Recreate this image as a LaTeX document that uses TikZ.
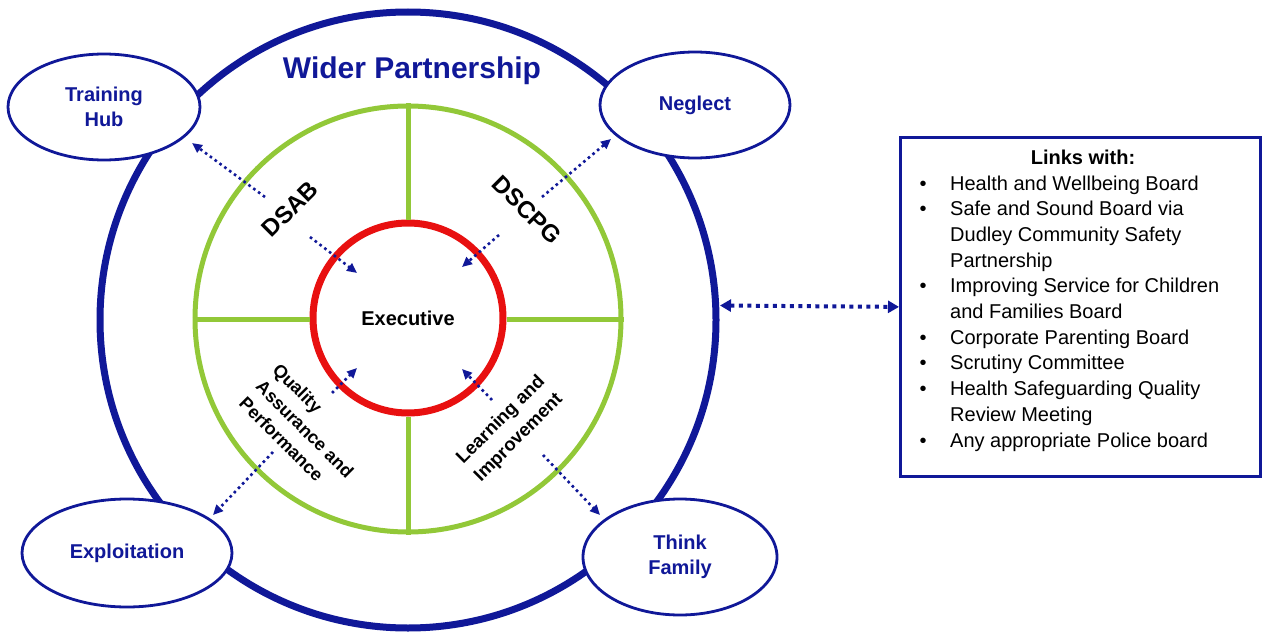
\documentclass[tikz,border=0pt]{standalone}
\usepackage{fontspec}
\setmainfont{Liberation Sans}
\usetikzlibrary{arrows.meta,shapes.geometric}
\definecolor{navy}{RGB}{16,24,152}
\definecolor{leaf}{RGB}{146,200,56}
\definecolor{ruby}{RGB}{232,16,16}
\newcommand\listbul{\makebox[30.5pt][l]{\textbullet}}
\newcommand\listgap{\hspace*{30.5pt}}
\begin{document}
\begin{tikzpicture}[x=1pt,y=-1pt,
  bubble/.style={ellipse, draw=navy, line width=2.8pt, fill=white, text=navy,
    inner sep=0pt, align=center, font={\fontsize{20}{25}\selectfont\bfseries}},
  quarter/.style={inner sep=0pt, text=black},
  dotarrow/.style={navy, line width=2.6pt, dash pattern=on 2.6pt off 3.4pt,
    -{Triangle[length=10pt,width=9pt]}},
  linkarrow/.style={navy, line width=4pt, dash pattern=on 4pt off 4.5pt,
    {Triangle[length=11pt,width=12pt]}-{Triangle[length=11pt,width=12pt]}}]
\useasboundingbox (0,0) rectangle (1262,634);

% outer partnership ring
\node[circle, draw=navy, line width=7pt, minimum size=616pt, inner sep=0pt] (wider) at (408,320) {};

% green quartered ring and the executive circle
\node[circle, draw=leaf, line width=5pt, minimum size=426pt, inner sep=0pt] (ring) at (408,319) {};
\node[circle, draw=ruby, line width=7pt, minimum size=190pt, inner sep=0pt,
  font={\fontsize{20}{24}\selectfont\bfseries}] (exec) at (408,318) {Executive};
\draw[leaf, line width=5pt] (ring.north) -- (ring.north |- exec.north);
\draw[leaf, line width=5pt] (ring.south) -- (ring.south |- exec.south);
\draw[leaf, line width=5pt] (ring.west) -- (ring.west -| exec.west);
\draw[leaf, line width=5pt] (ring.east) -- (ring.east -| exec.east);

% title
\node[anchor=base, text=navy, inner sep=0pt,
  font={\fontsize{30}{36}\selectfont\bfseries}] (title) at (412,78) {Wider Partnership};

% satellite groups
\node[bubble, minimum width=192pt, minimum height=106pt] (thub) at (104,107) {Training\\Hub};
\node[bubble, minimum width=190pt, minimum height=106pt] (neglect) at (695,105) {Neglect};
\node[bubble, minimum width=210pt, minimum height=108pt] (exploit) at (127,553) {Exploitation};
\node[bubble, minimum width=194pt, minimum height=116pt] (tfam) at (680,557) {Think\\Family};

% quarter labels
\node[quarter, rotate=45, font={\fontsize{24}{28}\selectfont\bfseries}] (dsab) at (290,209) {DSAB};
\node[quarter, rotate=-45, font={\fontsize{24}{28}\selectfont\bfseries}] (dscpg) at (527,210) {DSCPG};
\node[quarter, rotate=-45, align=left, font={\fontsize{18}{23.7}\selectfont\bfseries}] (qa) at (305,429)
  {Quality\\Assurance and\\Performance};
\node[quarter, rotate=45, align=left, font={\fontsize{18.5}{25}\selectfont\bfseries}] (li) at (510,429)
  {Learning and\\Improvement};

% links box
\node[draw=navy, line width=2.8pt, minimum width=360pt, minimum height=339pt,
  inner sep=0pt, anchor=north west] (links) at (899,136) {};
\node[anchor=base, inner sep=0pt, font={\fontsize{20}{24}\selectfont\bfseries}] (linkshead) at (1083,164) {Links with:};
\node[anchor=base west, inner sep=0pt, font={\fontsize{20}{25.7}\selectfont}] (linklist) at (919.5,190)
  {\begin{tabular}[t]{@{}l@{}}
   \listbul Health and Wellbeing Board\\
   \listbul Safe and Sound Board via\\
   \listgap Dudley Community Safety\\
   \listgap Partnership\\
   \listbul Improving Service for Children\\
   \listgap and Families Board\\
   \listbul Corporate Parenting Board\\
   \listbul Scrutiny Committee\\
   \listbul Health Safeguarding Quality\\
   \listgap Review Meeting\\
   \listbul Any appropriate Police board
   \end{tabular}};

% arrow end points
\coordinate (dsabOut) at (265,197);
\coordinate (thubIn) at (192,143);
\coordinate (dsabIn) at (310,237);
\coordinate (execA) at (357,273);
\coordinate (dscpgOut) at (542,197);
\coordinate (neglectIn) at (611,139);
\coordinate (dscpgIn) at (499,235);
\coordinate (execB) at (462,267);
\coordinate (qaIn) at (332,393);
\coordinate (execC) at (357,368);
\coordinate (qaOut) at (273,452);
\coordinate (exploitIn) at (213,515);
\coordinate (liIn) at (492,400);
\coordinate (execD) at (462,369);
\coordinate (liOut) at (543,455);
\coordinate (tfamIn) at (600,515);
\coordinate (widerOut) at (720,305.5);

% connectors
\draw[dotarrow] (dsabOut) -- (thubIn);
\draw[dotarrow] (dsabIn) -- (execA);
\draw[dotarrow] (dscpgOut) -- (neglectIn);
\draw[dotarrow] (dscpgIn) -- (execB);
\draw[dotarrow] (qaIn) -- (execC);
\draw[dotarrow] (qaOut) -- (exploitIn);
\draw[dotarrow] (liIn) -- (execD);
\draw[dotarrow] (liOut) -- (tfamIn);
\draw[linkarrow] (widerOut) -- (links.west);
\end{tikzpicture}
\end{document}
